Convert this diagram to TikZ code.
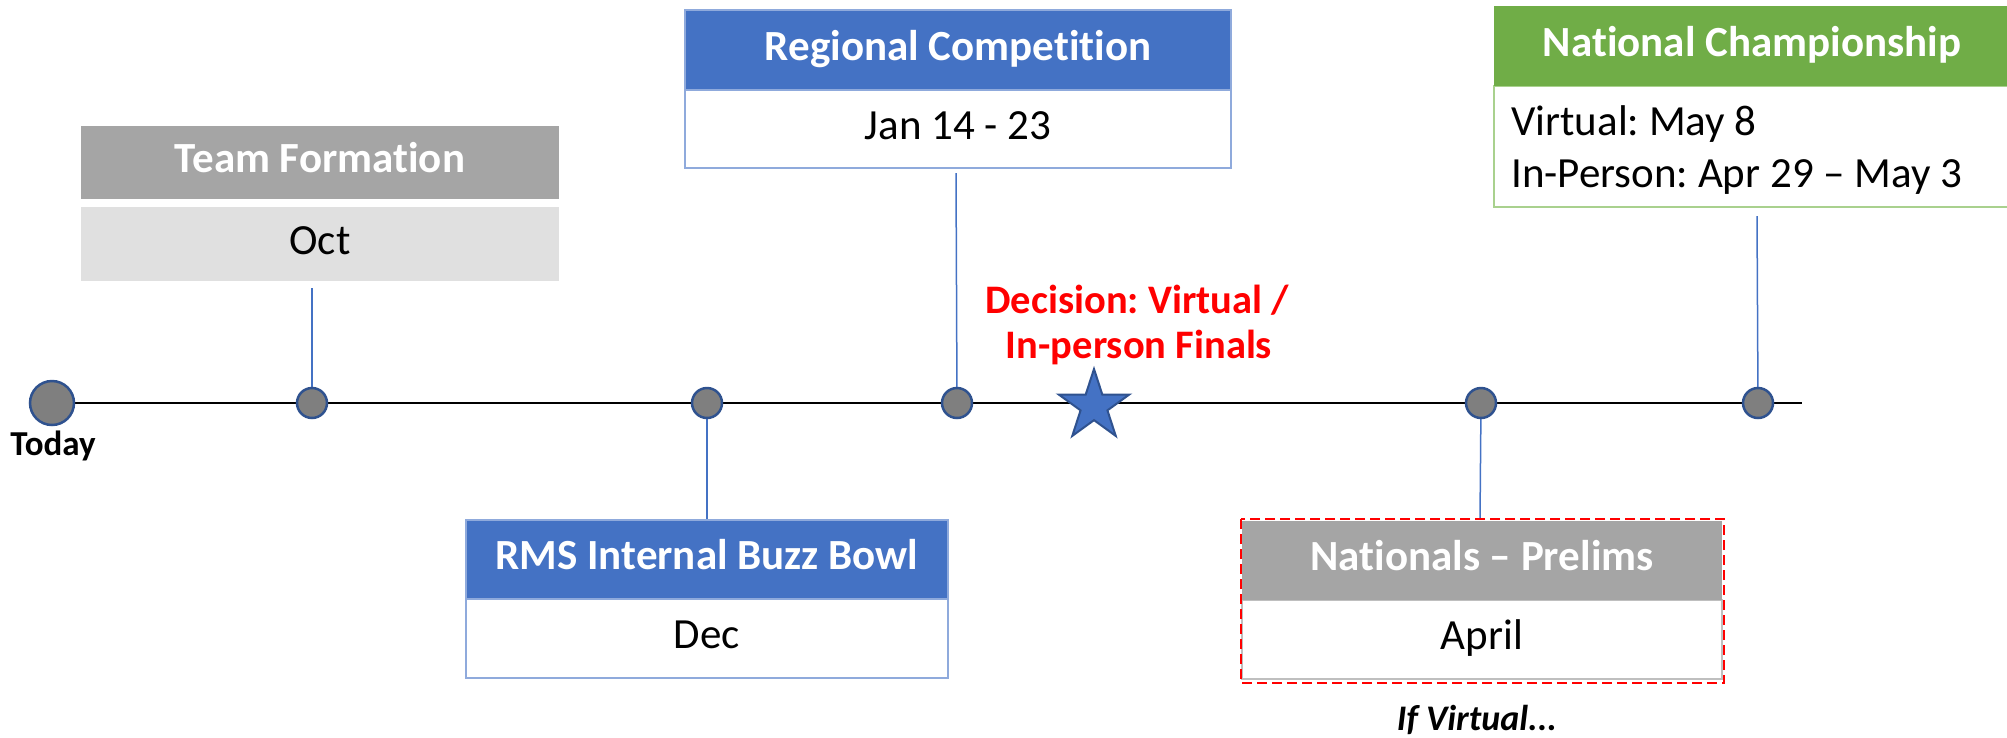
\documentclass[tikz,border=0pt]{standalone}
\usepackage{fontspec}
\setmainfont{Carlito}[Ligatures={NoCommon,TeX}]
\usetikzlibrary{shapes.geometric,backgrounds}
\definecolor{ppblue}{HTML}{4472C4}
\definecolor{ppblueL}{HTML}{8FAADC}
\definecolor{ppgray}{HTML}{A5A5A5}
\definecolor{ppgrayL}{HTML}{E0E0E0}
\definecolor{ppgreen}{HTML}{70AD47}
\definecolor{ppgreenL}{HTML}{A9D18E}
\definecolor{dotfill}{HTML}{7F7F7F}
\definecolor{dotline}{HTML}{2F528F}
\definecolor{bordgray}{HTML}{BFBFBF}
\definecolor{decred}{HTML}{FF0000}
\frenchspacing
\begin{document}
\begin{tikzpicture}[x=1pt,y=-1pt,
  hdr/.style={rectangle, inner sep=0pt, outer sep=0pt, text=white,
    font=\fontsize{43}{52}\selectfont\bfseries, text height=30pt, text depth=10pt},
  bodybox/.style={rectangle, inner sep=0pt, outer sep=0pt, text=black,
    font=\fontsize{43}{52}\selectfont, text height=30pt, text depth=10pt},
  bodytext/.style={inner sep=0pt, anchor=base west, font=\fontsize{43}{52}\selectfont},
  tdot/.style={circle, fill=dotfill, draw=dotline, line width=2.5pt, minimum size=30pt, inner sep=0pt},
  conn/.style={draw=ppblue, line width=1.5pt},
  tline/.style={draw=black, line width=1.5pt},
  redtext/.style={inner sep=0pt, anchor=base, text=decred, font=\fontsize{40.5}{46}\selectfont\bfseries},
  frame/.style={draw=decred, line width=2.5pt, dash pattern=on 10pt off 5pt},
]
\useasboundingbox (0,0) rectangle (2007,737);
\clip (0,0) rectangle (2007,737);

% timeline dots
\node[tdot, minimum size=44pt] (today) at (52,403) {};
\node[tdot] (d1) at (312,403) {};
\node[tdot] (d2) at (707,403) {};
\node[tdot] (d3) at (957,403) {};
\node[tdot] (d5) at (1481,403) {};
\node[tdot] (d6) at (1758,403) {};
\coordinate (tend) at (1802,403);
\node[star, star points=5, star point ratio=2.618, minimum size=74pt, inner sep=0pt,
      fill=ppblue, draw=dotline, line width=2pt] (star) at (1094,406) {};

% Team Formation
\node[hdr, fill=ppgray, minimum width=478pt, minimum height=73pt] (tfh) at (320,162.5) {Team Formation};
\node[bodybox, fill=ppgrayL, minimum width=478pt, minimum height=74pt] (tfb) at (320,244) {Oct};

% Regional Competition
\node[bodybox, draw=ppblueL, line width=1.5pt, minimum width=546pt, minimum height=78pt] (rcb) at (958,129) {Jan 14 - 23};
\node[hdr, fill=ppblue, draw=ppblueL, line width=1.5pt, minimum width=546pt, minimum height=80pt] (rch) at (958,50) {Regional Competition};

% RMS Internal Buzz Bowl
\node[bodybox, draw=ppblueL, line width=1.5pt, minimum width=482pt, minimum height=79pt] (rmsb) at (707,638.5) {Dec};
\node[hdr, fill=ppblue, draw=ppblueL, line width=1.5pt, minimum width=482pt, minimum height=79pt] (rmsh) at (707,559.5) {RMS Internal Buzz Bowl};

% Nationals - Prelims
\node[bodybox, draw=bordgray, line width=1.5pt, minimum width=480pt, minimum height=79pt] (preb) at (1482,639.5) {April};
\node[hdr, fill=ppgray, minimum width=480pt, minimum height=79pt] (preh) at (1482,560.5) {Nationals – Prelims};
\draw[frame] (1241,519) rectangle (1724,683);
\node[inner sep=0pt, anchor=base, font=\fontsize{36}{42}\selectfont\bfseries\itshape] (ifv) at (1477,730) {If Virtual...};

% National Championship
\node[bodybox, draw=ppgreenL, line width=1.5pt, minimum width=516pt, minimum height=121pt] (ncb) at (1752,146.5) {};
\node[hdr, fill=ppgreen, minimum width=516pt, minimum height=80pt] (nch) at (1752,46) {National Championship};
\node[bodytext] (nc1) at (1511,135) {Virtual: May 8};
\node[bodytext] (nc2) at (1511,187) {In-Person: Apr 29 – May 3};

% labels
\node[inner sep=0pt, anchor=base, font=\fontsize{35}{42}\selectfont\bfseries] (todayl) at (53,455) {Today};
\node[redtext] (dec1) at (1137,313) {Decision: Virtual /};
\node[redtext] (dec2) at (1139,358) {In-person Finals};

% connector free ends
\coordinate (c1) at (312,288);
\coordinate (c3) at (956,173);
\coordinate (c5) at (1480,519);
\coordinate (c6) at (1757,216);

\begin{scope}[on background layer]
\draw[tline] (today) -- (tend);
\draw[conn] (c1) -- (d1.center);
\draw[conn] (d2.center) -- (rmsh.north);
\draw[conn] (c3) -- (d3.center);
\draw[conn] (d5.center) -- (c5);
\draw[conn] (c6) -- (d6.center);
\end{scope}
\end{tikzpicture}
\end{document}
